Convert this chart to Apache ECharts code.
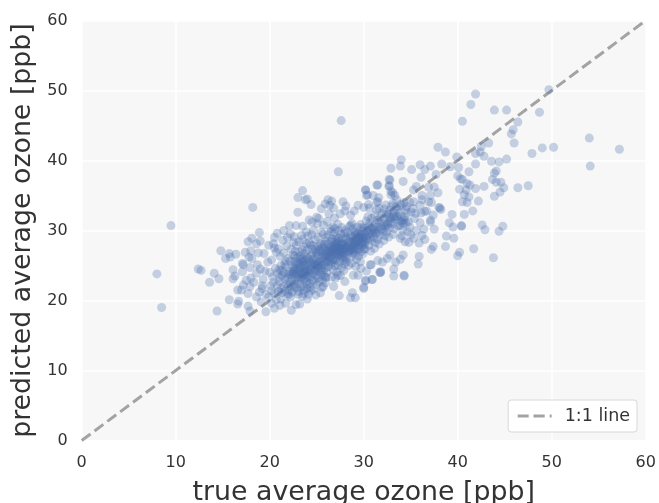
<!DOCTYPE html>
<html><head><meta charset="utf-8">
<style>html,body{margin:0;padding:0;background:#fff}#c{width:659px;height:503px}</style>
<script src="https://cdn.jsdelivr.net/npm/echarts@6/dist/echarts.min.js"></script>
</head><body><div id="c"></div>
<script>
const axisTicks = [0,10,20,30,40,50,60];
const lineName = '1:1 line';
const xName = 'true average ozone [ppb]';
const yName = 'predicted average ozone [ppb]';
const identityLine = [[0,0],[60,60]];
const upperRight = [[41.9,49.5],[41.4,48.0],[43.9,47.2],[45.2,47.2],[48.7,46.9],[49.7,50.1],[40.5,45.6],[46.4,45.5],[45.9,44.4],[45.7,43.8],[46.0,42.5],[43.3,42.5],[54.0,43.2],[57.2,41.6],[54.1,39.2],[50.2,41.9],[49.0,41.8],[47.9,41.0],[45.2,40.2],[44.4,39.8],[43.6,39.9],[42.8,40.6],[42.4,41.2],[41.9,41.0],[42.5,42.0],[41.9,39.5],[37.9,41.9],[38.7,41.2],[39.9,40.5],[38.3,39.5],[39.2,39.1],[40.1,39.0],[41.2,38.4],[44.1,38.5],[43.9,38.2],[43.7,37.3],[44.1,36.9],[44.6,36.9],[44.9,36.1],[44.5,35.5],[43.9,34.9],[46.4,36.1],[47.5,36.4],[42.8,36.3],[41.9,36.0],[41.3,36.5],[41.0,36.7],[40.0,37.8],[40.3,37.4],[40.5,37.3],[40.2,35.9],[40.9,35.8],[40.7,35.1],[41.2,34.8],[40.5,34.1],[41.0,34.0],[42.2,34.2],[41.6,32.8],[40.7,32.3],[39.4,32.3],[39.1,31.1],[39.5,30.5],[40.4,30.6],[40.4,30.7],[42.6,30.8],[42.9,30.1],[44.4,29.9],[44.8,30.6],[41.7,27.4],[43.8,26.1],[40.2,26.9],[40.0,26.4],[39.6,28.9],[38.8,29.2],[38.7,27.7]];
const rightEdge = [[37.4,27.7],[37.2,27.3],[37.5,30.2],[36.5,28.7],[35.9,26.3],[35.8,25.2],[33.2,24.5],[33.2,23.5],[34.3,23.5],[31.8,24.0],[31.8,24.1],[30.9,23.0],[30.2,22.8],[30.0,21.9],[33.4,25.5],[34.2,26.5],[33.9,25.9],[30.8,25.1],[31.5,25.7],[32.0,25.5],[32.5,26.0],[32.8,26.5],[35.9,28.2],[35.3,28.9],[34.8,28.3],[34.4,28.4],[33.9,28.9],[36.4,30.2],[37.1,31.5],[37.1,31.2],[37.4,32.2],[36.7,32.8],[36.1,32.5],[38.0,33.3],[38.2,33.0],[38.1,33.2],[37.2,34.0],[36.9,34.1],[37.9,35.4],[37.1,35.0],[36.2,35.0],[36.2,34.4],[36.0,33.6],[35.3,34.1],[34.9,34.0],[36.9,36.2],[37.5,36.2],[35.6,36.3],[35.3,35.8],[37.7,38.0],[36.1,37.6],[34.2,37.0],[35.1,38.7],[36.5,38.7],[37.1,39.2],[36.0,39.4],[34.0,40.1],[33.9,39.2],[32.9,38.9],[32.8,37.2],[32.7,36.3],[31.4,36.5],[31.5,36.5],[30.2,35.8],[30.3,35.0],[31.0,35.0],[31.6,34.7],[31.4,34.0],[32.9,35.1],[33.1,35.4],[33.5,34.4],[33.9,33.7],[34.3,34.0],[30.5,33.7],[30.0,33.3],[30.6,33.2],[33.1,33.9],[34.6,32.5],[33.9,31.3],[34.2,31.0],[34.9,30.5],[35.4,31.7],[36.5,32.7],[36.0,31.1],[35.6,30.0],[35.0,29.4],[36.2,29.3]];
const leftEdge = [[18.2,33.3],[9.5,30.7],[8.0,23.8],[8.5,19.0],[12.4,24.5],[12.7,24.3],[14.1,23.9],[14.6,23.1],[13.6,22.6],[14.4,18.5],[14.8,27.1],[15.7,26.7],[16.4,26.6],[15.3,26.0],[15.8,26.2],[16.1,24.4],[17.1,24.1],[16.3,23.5],[16.1,23.1],[16.6,21.5],[15.7,20.1],[16.7,19.9],[16.6,19.5],[17.7,19.2],[17.9,18.5],[19.6,18.4],[20.5,18.9],[22.3,18.6],[21.1,19.3],[21.7,19.6],[17.7,28.4],[18.1,28.9],[18.6,28.1],[18.9,29.7],[19.0,28.5],[17.4,26.9],[18.0,27.1],[17.8,26.2],[18.1,26.0],[17.1,25.3],[17.2,25.1],[17.9,24.7],[18.7,25.1],[18.6,23.9],[17.5,22.9],[17.9,22.0],[17.0,21.5],[17.7,21.0],[17.2,22.2],[18.9,21.2],[19.2,21.7],[18.6,20.5],[19.1,19.8],[19.9,20.5],[20.2,19.6],[20.7,20.1],[18.3,22.6],[18.0,23.2],[18.8,26.8]];
const upperLeft = [[27.6,45.7],[27.3,38.4],[23.5,35.7],[23.0,34.7],[24.0,34.5],[23.8,34.4],[24.4,33.7],[23.0,32.6],[26.2,34.4],[27.8,34.1],[25.9,33.8],[26.6,34.2],[28.1,33.5],[26.4,33.6],[25.5,33.1],[26.8,33.2],[26.3,32.4],[29.0,32.8],[25.0,31.9],[24.2,31.5],[24.5,31.2],[25.2,31.7],[26.1,31.3],[26.9,31.8],[22.8,30.7],[23.5,30.6],[22.1,30.7],[21.5,30.0],[20.8,29.6],[22.2,29.5],[20.5,29.0],[30.2,35.8],[32.7,37.3],[32.7,36.4],[30.4,35.1],[31.5,34.1],[32.9,35.6],[33.3,35.0],[28.0,32.8],[28.6,32.2],[27.5,32.4],[29.4,33.6]];
const lowerEdge = [[27.4,20.7],[28.8,21.1],[28.6,20.4],[29.1,20.4],[30.0,21.7],[30.2,22.9],[30.9,23.0],[25.7,22.0],[26.8,22.0],[28.0,22.7],[29.4,23.6],[28.9,23.6],[27.9,24.3],[34.3,23.6],[31.7,24.0],[30.7,25.1],[23.2,19.5],[24.0,20.2],[24.9,20.8],[23.0,20.9],[25.4,21.1],[22.2,20.5],[21.3,21.1],[26.0,23.3],[27.0,23.2],[24.3,21.9],[22.8,19.4],[23.7,21.4],[29.7,24.6],[30.3,24.2],[28.4,25.0]];
const band18to22 = [[19.3,23.0],[19.5,24.2],[19.8,25.5],[19.4,26.7],[19.9,27.9],[20.1,22.1],[20.3,23.4],[20.6,24.6],[20.2,25.8],[20.7,26.9],[20.4,28.1],[20.9,21.3],[21.0,22.7],[20.8,23.9],[21.2,25.0],[21.1,26.3],[20.9,27.4],[21.4,28.6],[21.5,22.0],[21.6,23.1],[21.3,24.3],[21.7,25.6],[21.5,26.8],[21.8,27.8],[21.9,29.0],[21.9,21.0],[21.8,22.4],[22.0,23.7],[21.7,24.8],[22.0,26.0],[19.0,24.5],[19.2,22.1],[20.0,24.0],[20.5,21.0],[20.5,27.5],[21.0,24.4],[21.3,23.6],[21.6,25.2],[19.6,20.9],[20.2,21.4],[21.2,20.2],[22.0,20.8]];
const band22to24 = [[22.1,21.5],[22.2,22.6],[22.37,23.3],[22.1,24.15],[22.44,24.9],[22.2,25.6],[22.48,26.5],[22.3,27.3],[22.55,28.3],[22.6,21.9],[22.73,22.9],[22.5,23.8],[22.85,24.55],[22.6,25.2],[22.97,26.1],[22.7,27.0],[22.84,27.9],[22.6,29.1],[23.03,21.3],[23.18,22.4],[23.25,23.2],[23.0,24.0],[23.34,24.8],[23.12,25.5],[23.27,26.4],[23.46,27.2],[23.11,28.4],[23.38,29.3],[23.47,20.6],[23.53,22.05],[23.66,23.0],[23.41,23.7],[23.72,24.3],[23.5,25.04],[23.83,25.8],[23.64,26.7],[23.75,27.6],[23.5,28.7],[23.88,29.8],[23.95,21.7],[23.91,22.7],[24.04,23.5],[23.86,24.6],[24.03,25.3],[23.93,26.2],[24.0,27.2],[23.94,28.1],[24.07,29.2],[22.44,23.95],[22.92,23.4],[23.31,23.92],[23.64,24.05],[22.77,24.27],[23.22,24.53],[23.75,23.66],[22.58,24.56],[23.06,23.04],[23.46,25.42],[23.97,24.35],[22.33,22.02],[23.14,26.92],[23.85,23.22],[22.68,26.34],[23.52,26.03],[22.9,25.2],[23.6,25.6],[24.1,26.0],[23.3,25.9]];
const band24to26 = [[24.13,20.9],[24.26,22.44],[24.33,23.35],[24.17,24.02],[24.42,24.73],[24.21,25.62],[24.36,26.44],[24.54,27.31],[24.23,28.25],[24.45,29.42],[24.64,21.64],[24.75,22.83],[24.57,23.74],[24.82,24.43],[24.63,25.27],[24.73,26.03],[24.94,26.95],[24.66,27.86],[24.83,28.72],[25.02,22.26],[25.15,23.24],[25.24,24.07],[25.04,24.84],[25.36,25.53],[25.12,26.36],[25.27,27.22],[25.43,28.14],[25.16,29.05],[25.55,21.84],[25.64,22.95],[25.47,23.66],[25.73,24.34],[25.52,25.03],[25.86,25.94],[25.65,26.73],[25.74,27.55],[25.93,28.42],[25.68,29.46],[25.95,23.35],[25.97,24.67],[26.02,25.44],[25.92,26.25],[26.04,27.06],[25.83,28.03],[26.06,29.04],[24.43,25.34],[24.96,25.68],[25.22,25.35],[24.74,24.95],[25.53,26.15],[25.05,26.67],[24.52,26.74],[25.33,26.96],[25.85,27.07],[24.85,27.36],[25.62,27.93],[25.14,27.74],[25.44,24.65],[24.33,27.94],[25.94,22.53],[25.23,22.65],[24.55,22.92],[25.76,23.56],[24.96,23.57],[25.53,29.76],[24.65,30.04],[25.07,30.96],[25.73,30.8],[26.05,26.6],[25.5,27.4],[24.9,25.2],[25.7,26.3]];
const band26to28 = [[26.12,24.02],[26.27,24.85],[26.13,25.63],[26.43,26.26],[26.22,26.94],[26.35,27.63],[26.54,28.47],[26.24,29.36],[26.46,30.24],[26.62,23.36],[26.74,24.38],[26.53,25.17],[26.85,25.84],[26.66,26.55],[26.72,27.23],[26.93,27.95],[26.64,28.77],[26.87,29.66],[26.73,30.52],[27.13,24.07],[27.25,25.06],[27.04,25.76],[27.32,26.36],[27.16,27.08],[27.21,27.74],[27.43,28.34],[27.14,29.03],[27.35,29.95],[27.24,30.88],[27.53,23.57],[27.64,24.66],[27.45,25.47],[27.76,26.14],[27.52,26.83],[27.84,27.46],[27.63,28.04],[27.74,28.85],[27.94,29.57],[27.66,30.42],[27.96,25.23],[28.03,26.05],[27.92,26.77],[28.05,27.36],[27.83,28.16],[28.07,28.94],[28.04,30.03],[26.44,27.36],[26.75,27.54],[27.03,27.37],[27.36,27.55],[27.62,27.36],[26.96,26.87],[27.22,26.74],[27.54,27.93],[27.95,27.85],[26.55,27.05],[26.83,28.35],[27.12,28.06],[27.44,27.04],[27.73,26.65],[26.36,26.03],[26.65,25.56],[27.02,26.24],[27.34,28.86],[27.56,29.46],[26.53,29.85],[26.94,30.26],[26.23,28.05],[27.86,25.74],[27.26,23.58],[26.95,24.96],[26.5,26.9],[26.8,27.1],[27.1,27.6],[27.4,26.6],[27.7,28.1],[26.6,27.8],[27.9,27.2],[26.3,27.2],[27.2,28.4],[27.5,27.2],[26.9,27.6],[27.6,26.4],[27.0,28.7]];
const band28to30 = [[28.13,25.54],[28.16,26.24],[28.44,26.94],[28.25,27.55],[28.33,28.26],[28.57,29.04],[28.24,29.75],[28.46,30.56],[28.74,25.33],[28.56,26.16],[28.85,26.77],[28.63,27.36],[28.76,27.94],[28.95,28.56],[28.64,29.37],[28.87,30.24],[28.75,31.05],[29.15,24.86],[29.24,25.87],[29.06,26.55],[29.34,27.16],[29.13,27.75],[29.26,28.36],[29.43,28.96],[29.16,29.66],[29.37,30.46],[29.66,25.53],[29.45,26.36],[29.76,26.94],[29.53,27.56],[29.84,28.16],[29.64,28.75],[29.73,29.46],[29.95,30.05],[29.67,30.84],[29.93,26.66],[30.04,27.35],[29.96,27.94],[30.06,28.46],[29.85,29.04],[30.05,29.57],[30.03,30.35],[28.43,27.86],[28.74,28.25],[29.04,28.06],[29.35,28.64],[29.63,28.24],[28.94,27.44],[29.23,27.36],[29.54,29.14],[29.92,28.94],[28.55,27.16],[28.83,29.06],[29.14,29.27],[29.44,27.96],[29.74,27.73],[28.35,27.04],[29.05,29.84],[28.64,30.74],[28.9,27.9],[29.2,28.6],[29.6,29.4],[30.0,29.0],[28.5,28.4],[29.4,29.6],[28.2,28.8],[29.8,30.4],[29.0,27.0]];
const band30to36 = [[30.15,27.35],[30.13,28.04],[30.44,28.66],[30.25,29.24],[30.34,29.94],[30.55,30.65],[30.26,31.34],[30.44,31.96],[30.74,27.05],[30.54,27.86],[30.83,28.56],[30.65,29.05],[30.76,29.74],[30.94,30.34],[30.63,31.06],[30.85,31.75],[31.15,27.44],[31.24,28.26],[31.05,28.95],[31.33,29.55],[31.14,30.16],[31.25,30.85],[31.44,31.46],[31.16,32.14],[31.36,32.94],[31.65,28.06],[31.46,28.75],[31.74,29.36],[31.54,29.96],[31.85,30.54],[31.63,31.16],[31.75,31.84],[31.96,32.45],[31.64,33.14],[32.14,28.55],[32.26,29.24],[32.05,29.86],[32.34,30.46],[32.15,31.05],[32.23,31.74],[32.44,32.36],[32.16,33.06],[32.36,33.66],[32.66,29.06],[32.45,29.76],[32.74,30.35],[32.56,31.04],[32.85,31.66],[32.64,32.24],[32.76,32.86],[32.94,33.45],[33.15,29.44],[33.24,30.26],[33.06,30.96],[33.35,31.56],[33.14,32.15],[33.23,32.76],[33.46,33.36],[33.65,30.66],[33.44,31.94],[33.74,32.46],[33.56,33.05],[34.06,29.25],[34.15,30.04],[34.34,31.84],[34.45,32.96],[34.54,33.44],[34.76,31.24],[35.05,32.66],[35.24,33.15],[35.53,32.46],[34.66,29.84],[34.04,33.54],[34.1,31.3],[34.3,31.5],[34.5,31.1],[33.9,30.7],[32.5,30.9],[31.9,30.2],[32.9,31.2],[31.4,30.5],[33.2,31.9],[32.2,30.7],[30.9,29.6],[33.6,32.0],[31.2,29.7],[32.7,31.9],[30.4,30.0],[34.0,32.0]];
const lowerCore = [[20.4,22.6],[20.8,22.2],[21.2,21.7],[21.6,21.3],[22.0,22.1],[22.4,21.2],[22.6,22.4],[22.9,21.8],[23.3,21.9],[23.6,21.0],[24.0,22.3],[24.4,21.4],[21.1,23.3],[21.5,24.0],[21.9,23.2],[22.2,23.7],[22.5,24.2],[22.8,23.7],[23.1,24.2],[23.4,23.3],[23.7,23.9],[24.0,24.1],[24.3,24.4],[24.6,24.1],[24.9,24.2],[25.2,24.6],[25.5,24.3],[25.8,25.1],[22.7,25.6],[23.2,25.2],[23.7,25.0],[24.2,25.0],[24.6,25.8],[25.1,25.1],[25.6,25.6],[26.1,26.4],[26.4,25.5],[26.7,25.9],[27.1,26.6],[27.4,27.3],[27.8,27.0],[28.2,27.3],[28.5,27.6],[28.8,27.2],[29.1,28.3],[29.5,28.5],[29.9,28.4],[30.3,28.9],[30.6,29.5],[31.0,30.0]];

const points = [].concat(upperRight,rightEdge,leftEdge,upperLeft,lowerEdge,band18to22,band22to24,band24to26,band26to28,band28to30,band30to36,lowerCore);
const chart = echarts.init(document.getElementById('c'));
const txt = '#333333', font = "'DejaVu Sans'";
const axis = (name, gap) => ({
  type:'value', min:0, max:60, interval:10, name, nameLocation:'middle', nameGap:gap,
  nameTextStyle:{fontFamily:font,fontSize:26.8,color:txt},
  axisLine:{show:false}, axisTick:{show:false},
  axisLabel:{fontFamily:font,fontSize:16,color:txt,margin:14,showMinLabel:true,showMaxLabel:true},
  splitLine:{show:true,lineStyle:{color:'#ffffff',width:1.5}}
});
chart.setOption({
  animation:false,
  grid:{left:81.7,right:13.3,top:20.5,bottom:62.5,show:true,backgroundColor:'#f7f7f7',borderWidth:0,outerBoundsMode:'none'},
  xAxis:axis(xName,39),
  yAxis:axis(yName,30),
  legend:{show:true,data:[lineName],right:22,bottom:71,orient:'horizontal',padding:[7,7,7,8],
    itemWidth:34,itemHeight:3,backgroundColor:'#ffffff',borderColor:'#d8d8d8',borderWidth:1,borderRadius:3,
    lineStyle:{width:3,type:[11,5]},
    textStyle:{fontFamily:font,fontSize:17.5,color:txt,padding:[0,0,0,8]}},
  series:[
    {type:'line',name:lineName,data:identityLine,symbol:'none',z:1,silent:true,
      lineStyle:{color:'#a3a3a3',width:3,type:[11,5]},itemStyle:{color:'#a3a3a3'}},
    {type:'scatter',name:'points',data:points,symbol:'circle',symbolSize:9,z:2,silent:true,
      itemStyle:{color:'#4c72b0',opacity:0.3,borderWidth:0}}
  ]
});
</script></body></html>
